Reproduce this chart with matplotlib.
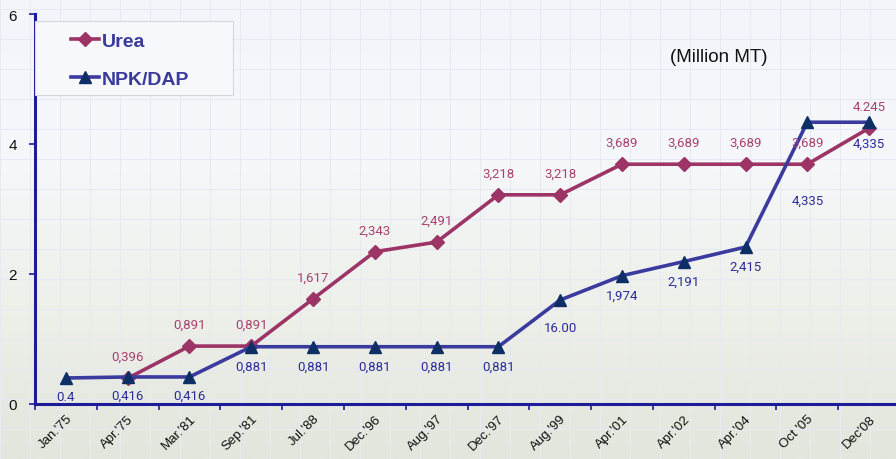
import numpy as np
from matplotlib import pyplot as plt
from matplotlib import font_manager
from matplotlib.patches import Rectangle
from matplotlib.colors import LinearSegmentedColormap

# categories and values
periods = ["Jan.'75", "Apr.'75", "Mar.'81", "Sep.'81", "Jul.'88", "Dec.'96", "Aug.'97",
           "Dec.'97", "Aug.'99", "Apr.'01", "Apr.'02", "Apr.'04", "Oct '05", "Dec'08"]

urea_values = [None, 0.396, 0.891, 0.891, 1.617, 2.343, 2.491,
               3.218, 3.218, 3.689, 3.689, 3.689, 3.689, 4.245]
urea_labels = [None, "0,396", "0,891", "0,891", "1,617", "2,343", "2,491",
               "3,218", "3,218", "3,689", "3,689", "3,689", "3,689", "4.245"]

npk_values = [0.4, 0.416, 0.416, 0.881, 0.881, 0.881, 0.881,
              0.881, 1.6, 1.974, 2.191, 2.415, 4.335, 4.335]
npk_labels = ["0.4", "0,416", "0,416", "0,881", "0,881", "0,881", "0,881",
              "0,881", "16.00", "1,974", "2,191", "2,415", "4,335", "4,335"]

# label offsets below the NPK points (in points), a few sit further down
npk_offsets = [-13, -13, -13, -14, -14, -14, -14, -14, -20, -14, -14, -14, -56, -15]

UREA_COLOR = "#9c3466"
UREA_TEXT = "#a8416f"
NPK_LINE = "#3b3a9e"
NPK_MARKER = "#0d2f66"
NPK_TEXT = "#2c2c9a"
AXIS_COLOR = "#1c1c99"

available = {f.name for f in font_manager.fontManager.ttflist}
narrow = "Liberation Sans Narrow" if "Liberation Sans Narrow" in available else "Roboto"
plt.rcParams["font.family"] = ["Liberation Sans", "DejaVu Sans"]

W, H = 896, 460
fig = plt.figure(figsize=(W / 100, H / 100), dpi=100)
fig.patch.set_facecolor("#f5f7fa")

# faint background: soft gradient towards the bottom plus a light grid
bg = fig.add_axes([0, 0, 1, 1], zorder=-10)
grad = np.linspace(0, 1, 200)[:, None]
bg.imshow(grad, extent=[0, 1, 0, 1], aspect="auto", origin="upper",
          cmap=LinearSegmentedColormap.from_list(
              "bgc", ["#f3f5fb", "#f6f8fb", "#eef0ea", "#e2e6dc"]))
for gx in np.arange(0, 1, 30 / W):
    bg.axvline(gx, color="#e6ebf3", lw=0.8)
for gy in np.arange(0, 1, 30 / H):
    bg.axhline(gy, color="#e6ebf3", lw=0.8)
bg.set_xlim(0, 1)
bg.set_ylim(0, 1)
bg.axis("off")

ax = fig.add_axes([35 / W, 55 / H, 865 / W, 390 / H])
ax.set_facecolor("none")

x = np.arange(len(periods))
ux = [i for i, v in enumerate(urea_values) if v is not None]
uy = [v for v in urea_values if v is not None]

ax.plot(ux, uy, color=UREA_COLOR, lw=2.6, marker="D", markersize=7.5,
        markerfacecolor=UREA_COLOR, markeredgecolor=UREA_COLOR, label="Urea", zorder=3)
ax.plot(x, npk_values, color=NPK_LINE, lw=2.6, marker="^", markersize=9,
        markerfacecolor=NPK_MARKER, markeredgecolor=NPK_MARKER, label="NPK/DAP", zorder=4)

for i, v in enumerate(urea_values):
    if v is None:
        continue
    ax.annotate(urea_labels[i], (i, v), xytext=(0, 11), textcoords="offset points",
                ha="center", va="bottom", fontsize=9.5, color=UREA_TEXT,
                family=[narrow, "DejaVu Sans"], zorder=5)

for i, v in enumerate(npk_values):
    ax.annotate(npk_labels[i], (i, v), xytext=(0, npk_offsets[i]), textcoords="offset points",
                ha="center", va="center", fontsize=9.5, color=NPK_TEXT,
                family=[narrow, "DejaVu Sans"], zorder=5)

ax.text(0.79, 0.89, "(Million MT)", transform=ax.transAxes, ha="center", va="center",
        fontsize=13.5, color="#111111")

ax.set_xlim(-0.5, len(periods) - 0.5)
ax.set_ylim(0, 6)
ax.set_yticks([0, 2, 4, 6])
ax.tick_params(axis="y", length=4, width=1.2, color=AXIS_COLOR, labelsize=11, pad=9,
               labelcolor="#111111")
ax.set_xticks(x)
ax.set_xticklabels(periods, rotation=45, ha="right", rotation_mode="anchor",
                   fontsize=9.5, color="#111111")
ax.set_xticks(np.arange(-0.5, len(periods), 1), minor=True)
ax.tick_params(axis="x", which="major", length=0, pad=6)
ax.tick_params(axis="x", which="minor", length=4, width=1.2, color=AXIS_COLOR)

for side in ["top", "right"]:
    ax.spines[side].set_visible(False)
for side in ["left", "bottom"]:
    ax.spines[side].set_color(AXIS_COLOR)
    ax.spines[side].set_linewidth(2.2)

# legend box drawn separately, legend entries placed inside it
box = Rectangle((35 / W, 1 - 96 / H), 198 / W, 74 / H, transform=fig.transFigure,
                facecolor="#f7f8fb", edgecolor="#d4d6dc", lw=0.8, zorder=6)
fig.add_artist(box)
leg = fig.legend(loc="upper left", bbox_to_anchor=(71 / W, 1 - 33 / H), frameon=False,
                 prop={"weight": "bold", "size": 14}, handlelength=1.45, borderpad=0.0,
                 labelspacing=1.05, handletextpad=0.15, borderaxespad=0.0)
leg.set_zorder(7)
for t in leg.get_texts():
    t.set_color("#3a3a9c")

fig.savefig("out.png", dpi=100, facecolor=fig.get_facecolor())
